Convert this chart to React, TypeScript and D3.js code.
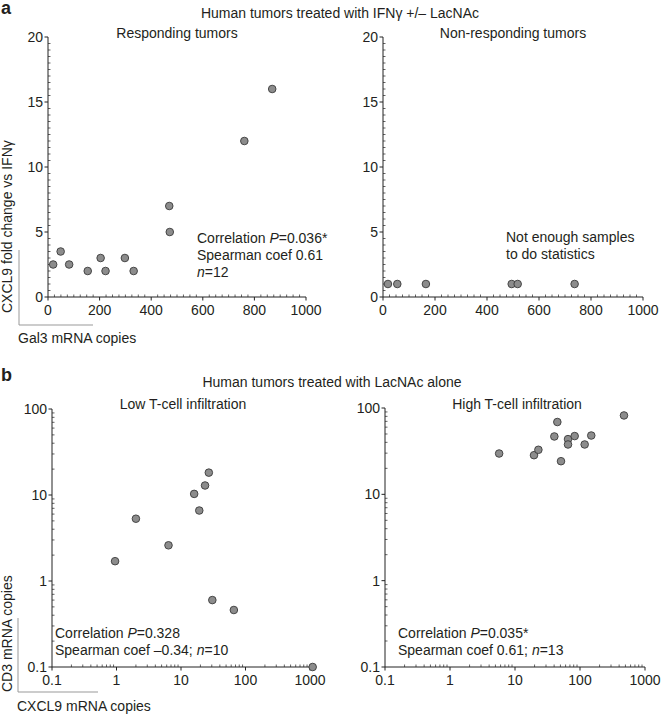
import React from "react";
import * as d3 from "d3";

// ---- Data ----
const respX = [20, 49, 82, 154, 204, 223, 298, 332, 470, 472, 761, 869];
const respY = [2.5, 3.5, 2.5, 2, 3, 2, 3, 2, 7, 5, 12, 16];
const nonX = [19, 55, 165, 495, 518, 737];
const nonY = [1, 1, 1, 1, 1, 1];
const lowX = [0.95, 2.0, 6.4, 16, 19.2, 23.6, 27, 30.6, 66, 1100];
const lowY = [1.7, 5.3, 2.6, 10.3, 6.6, 12.9, 18.2, 0.6, 0.46, 0.1];
const highX = [5.7, 19.6, 22.9, 40.3, 44.8, 51, 65.4, 65.4, 82.8, 118, 149, 475];
const highY = [29.7, 28.4, 32.8, 46.8, 68.8, 24.2, 43.6, 37.8, 47.3, 37.8, 48, 82];

const linXTicks = [0, 200, 400, 600, 800, 1000];
const linYTicks = [0, 5, 10, 15, 20];
const logTicks = [0.1, 1, 10, 100, 1000];
const logTickLabels = ["0.1", "1", "10", "100", "1000"];
const logYTicks = [0.1, 1, 10, 100];
const logYTickLabels = ["0.1", "1", "10", "100"];

const FONT = "'Liberation Sans', Arial, Helvetica, sans-serif";
const TXT = "#231f20";
const FS = 14;

type PanelProps = {
  x0: number; x1: number; y0: number; y1: number;
  log: boolean; xs: number[]; ys: number[];
};

function Panel({ x0, x1, y0, y1, log, xs, ys }: PanelProps) {
  const xScale = log
    ? d3.scaleLog().domain([0.1, 1000]).range([x0, x1])
    : d3.scaleLinear().domain([0, 1000]).range([x0, x1]);
  const yScale = log
    ? d3.scaleLog().domain([0.1, 100]).range([y0, y1])
    : d3.scaleLinear().domain([0, 20]).range([y0, y1]);

  let xMinor: number[] = [];
  let yMinor: number[] = [];
  if (log) {
    for (let e = -1; e < 3; e++) for (let k = 2; k <= 9; k++) xMinor.push(k * Math.pow(10, e));
    for (let e = -1; e < 2; e++) for (let k = 2; k <= 9; k++) yMinor.push(k * Math.pow(10, e));
  } else {
    xMinor = d3.range(0, 1001, 25).filter((v) => v % 200 !== 0);
    yMinor = d3.range(0, 20.01, 0.5).filter((v) => v % 5 !== 0);
  }
  const xT = log ? logTicks : linXTicks;
  const xL = log ? logTickLabels : linXTicks.map(String);
  const yT = log ? logYTicks : linYTicks;
  const yL = log ? logYTickLabels : linYTicks.map(String);

  return (
    <g>
      <line x1={x0} x2={x1} y1={y0} y2={y0} stroke="#222" strokeWidth={1} />
      <line x1={x0} x2={x0} y1={y0} y2={y1} stroke="#222" strokeWidth={1} />
      {xMinor.map((v, i) => (
        <line key={"xm" + i} x1={xScale(v)} x2={xScale(v)} y1={y0} y2={y0 - 2.5} stroke="#222" strokeWidth={0.7} />
      ))}
      {yMinor.map((v, i) => (
        <line key={"ym" + i} x1={x0} x2={x0 + 2.5} y1={yScale(v)} y2={yScale(v)} stroke="#222" strokeWidth={0.7} />
      ))}
      {xT.map((v, i) => (
        <g key={"xt" + i}>
          <line x1={xScale(v)} x2={xScale(v)} y1={y0} y2={y0 + 3.5} stroke="#222" strokeWidth={1} />
          <text x={xScale(v)} y={y0 + 18} textAnchor="middle" fontSize={FS} fill={TXT}>{xL[i]}</text>
        </g>
      ))}
      {yT.map((v, i) => (
        <g key={"yt" + i}>
          <line x1={x0} x2={x0 - 3.5} y1={yScale(v)} y2={yScale(v)} stroke="#222" strokeWidth={1} />
          <text x={x0 - 5} y={yScale(v) + 5} textAnchor="end" fontSize={FS} fill={TXT}>{yL[i]}</text>
        </g>
      ))}
      {xs.map((v, i) => (
        <circle key={"p" + i} cx={xScale(v)} cy={yScale(ys[i])} r={3.8} fill="#8c8c8c" stroke="#3a3a3a" strokeWidth={0.9} />
      ))}
    </g>
  );
}

export default function App() {
  return (
    <svg width={661} height={714} style={{ position: "absolute", left: 0, top: 0, background: "#fff" }} fontFamily={FONT}>
      <rect width={661} height={714} fill="#fff" />
      {/* Panel a */}
      <text x={1} y={14} fontSize={18} fontWeight="bold" fill={TXT}>a</text>
      <text x={340} y={18} textAnchor="middle" fontSize={FS} fill={TXT}>Human tumors treated with IFNγ +/– LacNAc</text>
      <text x={177} y={38} textAnchor="middle" fontSize={FS} fill={TXT}>Responding tumors</text>
      <text x={513} y={38} textAnchor="middle" fontSize={FS} fill={TXT}>Non-responding tumors</text>
      <Panel x0={48} x1={306} y0={297} y1={37} log={false} xs={respX} ys={respY} />
      <Panel x0={383} x1={643} y0={297} y1={37} log={false} xs={nonX} ys={nonY} />
      <text x={197} y={243} fontSize={FS} fill={TXT}>Correlation <tspan fontStyle="italic">P</tspan>=0.036*</text>
      <text x={197} y={260} fontSize={FS} fill={TXT}>Spearman coef 0.61</text>
      <text x={197} y={277} fontSize={FS} fill={TXT}><tspan fontStyle="italic">n</tspan>=12</text>
      <text x={506} y={242} fontSize={FS} fill={TXT}>Not enough samples</text>
      <text x={506} y={259} fontSize={FS} fill={TXT}>to do statistics</text>
      <text transform="translate(12,313) rotate(-90)" fontSize={FS} fill={TXT}>CXCL9 fold change vs IFNγ</text>
      <line x1={19} x2={19} y1={250} y2={325} stroke="#999" strokeWidth={1} />
      <line x1={19} x2={93} y1={325} y2={325} stroke="#999" strokeWidth={1} />
      <text x={18} y={343} fontSize={FS} fill={TXT}>Gal3 mRNA copies</text>

      {/* Panel b */}
      <text x={1} y={381} fontSize={18} fontWeight="bold" fill={TXT}>b</text>
      <text x={332} y={387} textAnchor="middle" fontSize={FS} fill={TXT}>Human tumors treated with LacNAc alone</text>
      <text x={183} y={409} textAnchor="middle" fontSize={FS} fill={TXT}>Low T-cell infiltration</text>
      <text x={517} y={409} textAnchor="middle" fontSize={FS} fill={TXT}>High T-cell infiltration</text>
      <Panel x0={52} x1={310} y0={667} y1={409} log={true} xs={lowX} ys={lowY} />
      <Panel x0={385} x1={645} y0={667} y1={408} log={true} xs={highX} ys={highY} />
      <text x={55} y={638} fontSize={FS} fill={TXT}>Correlation <tspan fontStyle="italic">P</tspan>=0.328</text>
      <text x={55} y={655} fontSize={FS} fill={TXT}>Spearman coef –0.34; <tspan fontStyle="italic">n</tspan>=10</text>
      <text x={398} y={638} fontSize={FS} fill={TXT}>Correlation <tspan fontStyle="italic">P</tspan>=0.035*</text>
      <text x={398} y={655} fontSize={FS} fill={TXT}>Spearman coef 0.61; <tspan fontStyle="italic">n</tspan>=13</text>
      <text transform="translate(12,692) rotate(-90)" fontSize={FS} fill={TXT}>CD3 mRNA copies</text>
      <line x1={18} x2={18} y1={618} y2={692} stroke="#999" strokeWidth={1} />
      <line x1={18} x2={98} y1={692} y2={692} stroke="#999" strokeWidth={1} />
      <text x={17} y={711} fontSize={FS} fill={TXT}>CXCL9 mRNA copies</text>
    </svg>
  );
}
